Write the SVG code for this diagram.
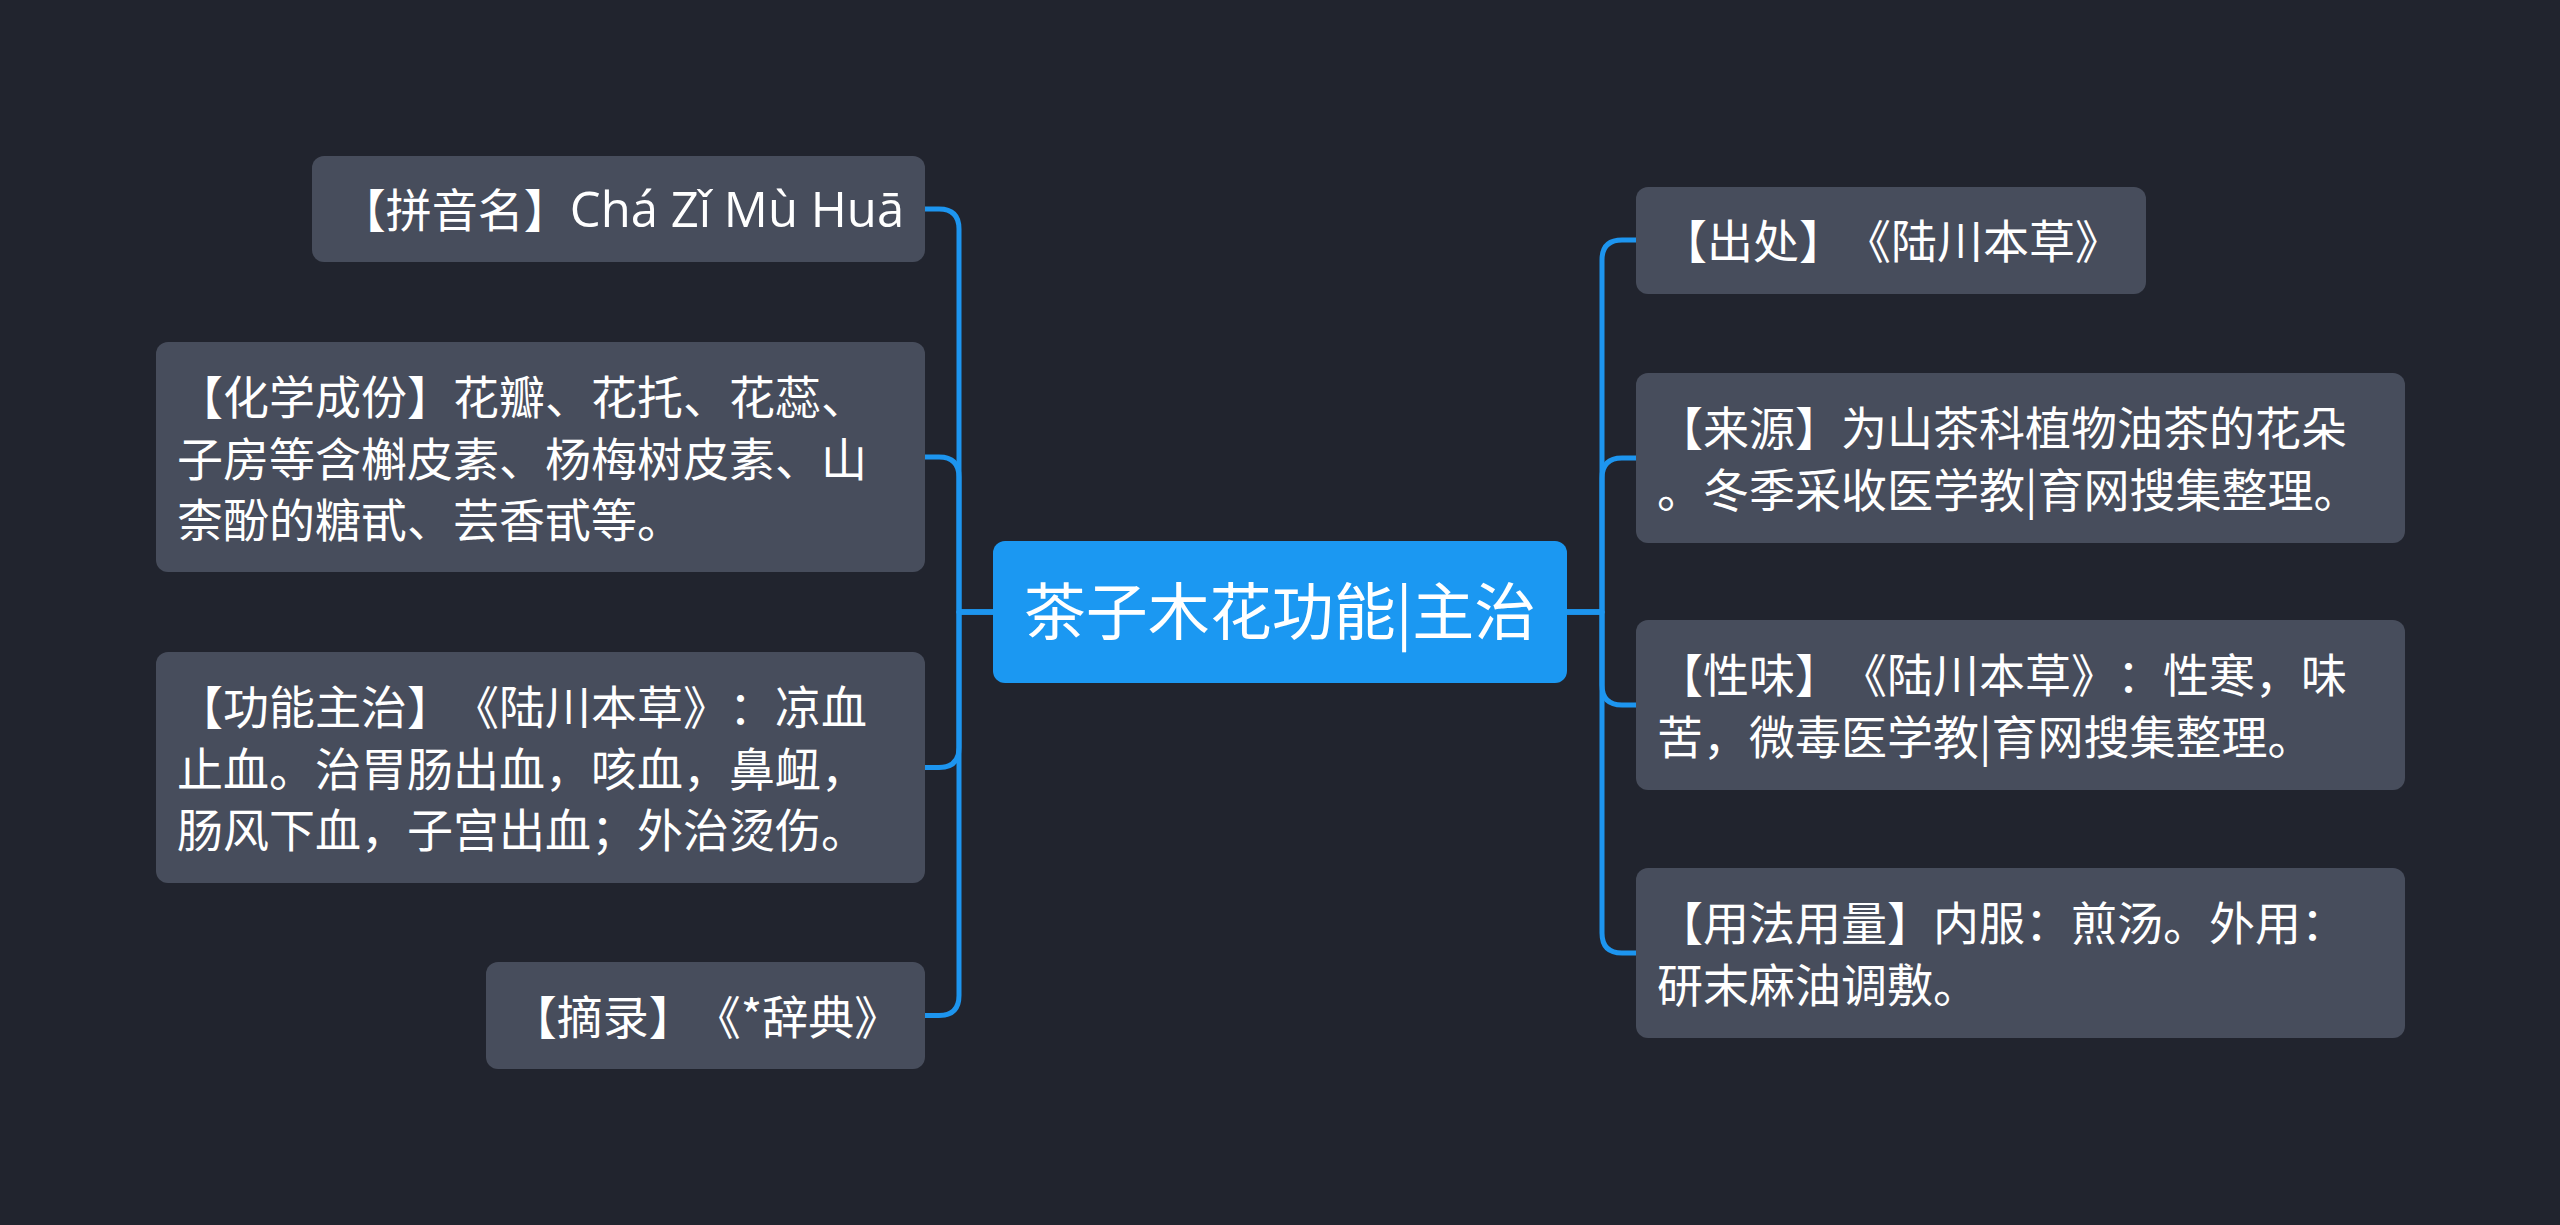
<svg xmlns="http://www.w3.org/2000/svg" width="2560" height="1225" viewBox="0 0 2560 1225">
<style>
.bg{fill:#21242e}
.node rect{fill:#474d5c}
.root rect{fill:#1b98f2}
text{font-family:'Noto Sans CJK SC',sans-serif;fill:#ffffff;text-spacing-trim:space-all}
.lat{font-family:'Open Sans','Noto Sans CJK SC',sans-serif;font-size:49px}
.t{font-size:46px}
.rt{font-size:62px}
.c{text-anchor:middle}
.links path{fill:none;stroke:#1d95ef;stroke-width:5;stroke-linecap:round;stroke-linejoin:round}
</style>
<rect class="bg" x="0" y="0" width="2560" height="1225"/>
<g class="links">
<path d="M993,612 H959 V229 Q959,209 939,209 H925"/>
<path d="M993,612 H959 V477 Q959,457 939,457 H925"/>
<path d="M993,612 H959 V747.5 Q959,767.5 939,767.5 H925"/>
<path d="M993,612 H959 V995.5 Q959,1015.5 939,1015.5 H925"/>
<path d="M1567,612 H1602 V260 Q1602,240 1622,240 H1636"/>
<path d="M1567,612 H1602 V478 Q1602,458 1622,458 H1636"/>
<path d="M1567,612 H1602 V685 Q1602,705 1622,705 H1636"/>
<path d="M1567,612 H1602 V933 Q1602,953 1622,953 H1636"/>
</g>
<g id="root" class="root">
<rect x="993" y="541" width="574" height="142" rx="12"/>
<text class="rt c" x="1280" y="635">茶子木花功能|主治</text>
</g>
<g id="n-pinyin" class="node">
<rect x="312" y="156" width="613" height="106" rx="12"/>
<text class="t c" x="622" y="227">【拼音名】<tspan class="lat">Chá Zǐ Mù Huā</tspan></text>
</g>
<g id="n-chem" class="node">
<rect x="156" y="342" width="769" height="230" rx="12"/>
<text class="t" x="177" y="414">【化学成份】花瓣、花托、花蕊、</text>
<text class="t" x="177" y="475.5">子房等含槲皮素、杨梅树皮素、山</text>
<text class="t" x="177" y="537">柰酚的糖甙、芸香甙等。</text>
</g>
<g id="n-func" class="node">
<rect x="156" y="652" width="769" height="231" rx="12"/>
<text class="t" x="177" y="724">【功能主治】《陆川本草》：凉血</text>
<text class="t" x="177" y="785.5">止血。治胃肠出血，咳血，鼻衄，</text>
<text class="t" x="177" y="847">肠风下血，子宫出血；外治烫伤。</text>
</g>
<g id="n-excerpt" class="node">
<rect x="486" y="962" width="439" height="107" rx="12"/>
<text class="t c" x="705.5" y="1034">【摘录】《*辞典》</text>
</g>
<g id="n-source" class="node">
<rect x="1636" y="187" width="510" height="107" rx="12"/>
<text class="t c" x="1891" y="258">【出处】《陆川本草》</text>
</g>
<g id="n-origin" class="node">
<rect x="1636" y="373" width="769" height="170" rx="12"/>
<text class="t" x="1657" y="445">【来源】为山茶科植物油茶的花朵</text>
<text class="t" x="1657" y="506.5">。冬季采收医学教|育网搜集整理。</text>
</g>
<g id="n-nature" class="node">
<rect x="1636" y="620" width="769" height="170" rx="12"/>
<text class="t" x="1657" y="692">【性味】《陆川本草》：性寒，味</text>
<text class="t" x="1657" y="753.5">苦，微毒医学教|育网搜集整理。</text>
</g>
<g id="n-usage" class="node">
<rect x="1636" y="868" width="769" height="170" rx="12"/>
<text class="t" x="1657" y="940">【用法用量】内服：煎汤。外用：</text>
<text class="t" x="1657" y="1001.5">研末麻油调敷。</text>
</g>
</svg>
